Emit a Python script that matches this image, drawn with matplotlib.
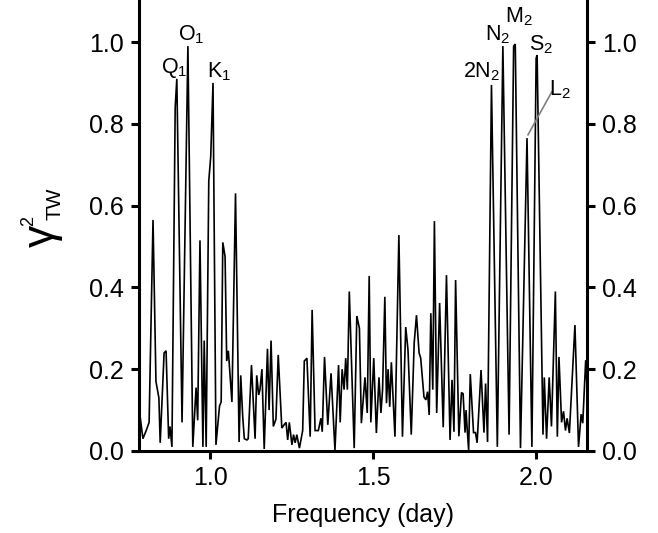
import matplotlib
matplotlib.use("Agg")
import matplotlib.pyplot as plt

plt.rcParams['font.family'] = ['Liberation Sans', 'DejaVu Sans']
plt.rcParams['mathtext.fontset'] = 'custom'
plt.rcParams['mathtext.rm'] = 'Liberation Sans'
plt.rcParams['mathtext.it'] = 'Liberation Sans:italic'

freq = [0.783, 0.794, 0.804, 0.813, 0.825, 0.834, 0.843, 0.847, 0.859, 0.865,
        0.873, 0.877, 0.883, 0.893, 0.898, 0.914, 0.932, 0.947, 0.957, 0.962,
        0.969, 0.978, 0.982, 0.988, 0.996, 1.002, 1.009, 1.018, 1.029, 1.034,
        1.039, 1.046, 1.051, 1.056, 1.067, 1.078, 1.089, 1.094, 1.100, 1.105,
        1.113, 1.117, 1.127, 1.138, 1.143, 1.149, 1.153, 1.159, 1.166, 1.176,
        1.181, 1.187, 1.194, 1.202, 1.209, 1.220, 1.227, 1.233, 1.238, 1.243,
        1.251, 1.256, 1.261, 1.266, 1.274, 1.284, 1.289, 1.297, 1.307, 1.313,
        1.322, 1.332, 1.340, 1.344, 1.351, 1.361, 1.371, 1.383, 1.394, 1.399,
        1.405, 1.411, 1.416, 1.421, 1.427, 1.442, 1.450, 1.458, 1.464, 1.475,
        1.482, 1.488, 1.493, 1.502, 1.510, 1.518, 1.524, 1.529, 1.536, 1.541,
        1.546, 1.551, 1.556, 1.567, 1.579, 1.590, 1.600, 1.607, 1.617, 1.626,
        1.633, 1.641, 1.646, 1.656, 1.662, 1.667, 1.672, 1.677, 1.683, 1.688,
        1.695, 1.704, 1.715, 1.725, 1.736, 1.742, 1.748, 1.753, 1.763, 1.771,
        1.776, 1.782, 1.785, 1.788, 1.793, 1.798, 1.808, 1.814, 1.819, 1.831,
        1.840, 1.845, 1.851, 1.863, 1.881, 1.898, 1.917, 1.931, 1.936, 1.952,
        1.972, 1.987, 2.000, 2.003, 2.021, 2.025, 2.032, 2.040, 2.047, 2.059,
        2.065, 2.070, 2.078, 2.084, 2.090, 2.095, 2.102, 2.119, 2.130, 2.138,
        2.143, 2.152, 2.156]

gamma2 = [0.10, 0.03, 0.05, 0.07, 0.565, 0.17, 0.13, 0.02, 0.24, 0.245,
          0.03, 0.06, 0.01, 0.84, 0.91, 0.07, 0.99, 0.01, 0.155, 0.075,
          0.515, 0.01, 0.27, 0.01, 0.66, 0.72, 0.90, 0.015, 0.11, 0.12,
          0.51, 0.475, 0.22, 0.245, 0.12, 0.63, 0.022, 0.185, 0.085, 0.03,
          0.027, 0.03, 0.21, 0.03, 0.185, 0.137, 0.15, 0.20, 0.005, 0.25,
          0.10, 0.27, 0.06, 0.078, 0.235, 0.056, 0.064, 0.07, 0.027, 0.07,
          0.015, 0.04, 0.02, 0.04, 0.007, 0.05, 0.22, 0.227, 0.035, 0.345,
          0.05, 0.05, 0.08, 0.047, 0.23, 0.064, 0.19, 0.002, 0.21, 0.07,
          0.20, 0.15, 0.227, 0.15, 0.39, 0.007, 0.33, 0.30, 0.068, 0.18,
          0.093, 0.428, 0.07, 0.227, 0.044, 0.18, 0.093, 0.15, 0.377, 0.117,
          0.20, 0.108, 0.217, 0.035, 0.528, 0.035, 0.303, 0.247, 0.04, 0.264,
          0.332, 0.24, 0.227, 0.132, 0.125, 0.145, 0.088, 0.337, 0.15, 0.562,
          0.093, 0.362, 0.058, 0.43, 0.027, 0.174, 0.047, 0.418, 0.036, 0.143,
          0.14, 0.045, 0.10, 0.06, 0.002, 0.188, 0.045, 0.045, 0.02, 0.198,
          0.045, 0.165, 0.022, 0.895, 0.01, 0.99, 0.04, 0.99, 0.995, 0.007,
          0.765, 0.01, 0.96, 0.968, 0.04, 0.18, 0.03, 0.18, 0.06, 0.39,
          0.035, 0.23, 0.07, 0.097, 0.05, 0.08, 0.044, 0.308, 0.01, 0.09,
          0.068, 0.222, 0.16]

peak_labels = [r'Q$_1$', r'O$_1$', r'K$_1$', r'2N$_2$', r'N$_2$', r'M$_2$', r'S$_2$', r'L$_2$']
label_x = [0.850, 0.902, 0.991, 1.776, 1.843, 1.904, 1.979, 2.040]
label_y = [0.924, 1.005, 0.914, 0.914, 1.005, 1.047, 0.980, 0.870]
leader_x = [2.048, 1.975]
leader_y = [0.878, 0.773]

xticks = [1.0, 1.5, 2.0]
yticks = [0.0, 0.2, 0.4, 0.6, 0.8, 1.0]

W, H = 658, 533
fig = plt.figure(figsize=(W / 100, H / 100), dpi=100)
ax = fig.add_axes([139 / W, 82 / H, 448 / W, 451 / H])
ax.plot(freq, gamma2, color='black', lw=1.2, solid_joinstyle='miter')
ax.set_xlim(0.782, 2.156)
ax.set_ylim(0, 1.1027)

for t, x, y in zip(peak_labels, label_x, label_y):
    ax.text(x, y, t, fontsize=15.5, ha='left', va='baseline')
ax.plot(leader_x, leader_y, color='#808080', lw=1.2)

for s in ['left', 'right', 'bottom']:
    ax.spines[s].set_linewidth(2.2)
ax.spines['top'].set_visible(False)

ax.set_xticks(xticks)
ax.set_xticklabels([f'{v:.1f}' for v in xticks])
ax.set_yticks(yticks)
ax.set_yticklabels([f'{v:.1f}' for v in yticks])
ax.tick_params(axis='both', direction='out', length=6, width=2.2, labelsize=18, pad=5)
ax.tick_params(axis='y', which='both', left=True, right=True, labelleft=True, labelright=True)

ax.set_xlabel('Frequency (day)', fontsize=18, labelpad=9)

# y-axis label: gamma with superscript 2 and subscript TW (rotated)
fig.text(42 / W, 1 - 236 / H, '\u03b3', rotation=90, fontsize=32,
         ha='center', va='center')
fig.text(29 / W, 1 - 221 / H, '2', rotation=90, fontsize=13,
         ha='center', va='center')
fig.text(55 / W, 1 - 204 / H, 'TW', rotation=90, fontsize=15,
         ha='center', va='center')

fig.savefig('out.png', dpi=100)
